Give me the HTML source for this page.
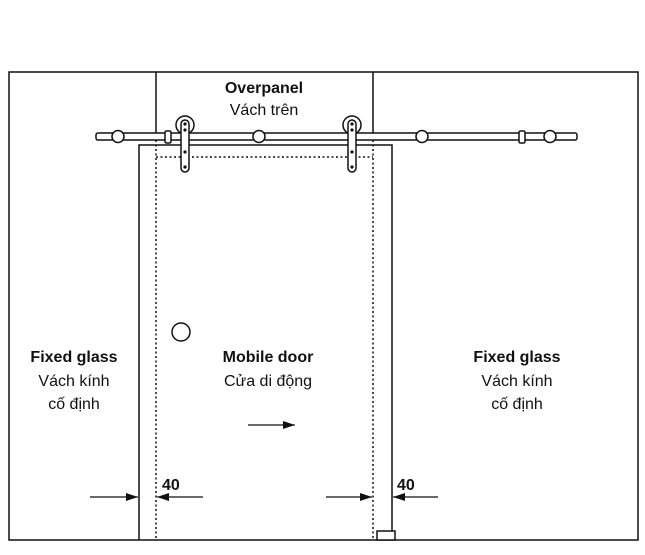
<!DOCTYPE html>
<html><head><meta charset="utf-8"><style>
html,body{margin:0;padding:0;background:#fff;}
svg{display:block;}
text{font-family:"Liberation Sans",Arial,sans-serif;font-size:16px;fill:#111;}
.b{font-weight:bold;}
</style></head><body>
<svg width="645" height="555" viewBox="0 0 645 555" xmlns="http://www.w3.org/2000/svg">
<defs><marker id="ah" markerWidth="12" markerHeight="8" refX="12" refY="4" orient="auto" markerUnits="userSpaceOnUse"><path d="M0,0 L12,4 L0,8 Z" fill="#111"/></marker></defs>
<g stroke="#111" stroke-width="1.5" fill="none">
<rect x="9" y="72" width="629" height="468"/>
<line x1="156" y1="72" x2="156" y2="134"/>
<line x1="373" y1="72" x2="373" y2="134"/>
<polyline points="139,540 139,145 392,145 392,540"/>
</g>
<g stroke="#111" stroke-width="1.5" stroke-dasharray="2,2.5" fill="none">
<line x1="156" y1="140" x2="156" y2="540"/>
<line x1="373" y1="140" x2="373" y2="540"/>
<line x1="156" y1="157" x2="373" y2="157"/>
</g>
<rect x="96" y="133" width="481" height="7" rx="2" fill="#fff" stroke="#111" stroke-width="1.5"/>
<g fill="#fff" stroke="#111" stroke-width="1.5">
<circle cx="118" cy="136.5" r="6"/>
<circle cx="259" cy="136.5" r="6"/>
<circle cx="422" cy="136.5" r="6"/>
<circle cx="550" cy="136.5" r="6"/>
<rect x="165" y="131" width="6" height="12" rx="1.5"/>
<rect x="519" y="131" width="6" height="12" rx="1.5"/>
<circle cx="185" cy="125" r="9"/>
<circle cx="352" cy="125" r="9"/>
<rect x="181" y="120" width="8" height="52" rx="4"/>
<rect x="348" y="120" width="8" height="52" rx="4"/>
<circle cx="181" cy="332" r="9"/>
<rect x="377" y="531" width="18" height="9"/>
</g>
<g fill="#111">
<circle cx="185" cy="124" r="1.6"/><circle cx="185" cy="130" r="1.6"/><circle cx="185" cy="152" r="1.6"/><circle cx="185" cy="167" r="1.6"/>
<circle cx="352" cy="124" r="1.6"/><circle cx="352" cy="130" r="1.6"/><circle cx="352" cy="152" r="1.6"/><circle cx="352" cy="167" r="1.6"/>
</g>
<g stroke="#111" stroke-width="1.3">
<line x1="248" y1="425" x2="295" y2="425" marker-end="url(#ah)"/>
<line x1="90" y1="497" x2="138" y2="497" marker-end="url(#ah)"/>
<line x1="203" y1="497" x2="157" y2="497" marker-end="url(#ah)"/>
<line x1="326" y1="497" x2="372" y2="497" marker-end="url(#ah)"/>
<line x1="438" y1="497" x2="393" y2="497" marker-end="url(#ah)"/>
</g>
<text x="264" y="93" class="b" text-anchor="middle">Overpanel</text>
<text x="264" y="115" text-anchor="middle">Vách trên</text>
<text x="74" y="362" class="b" text-anchor="middle">Fixed glass</text>
<text x="74" y="386" text-anchor="middle">Vách kính</text>
<text x="74" y="409" text-anchor="middle">cố định</text>
<text x="268" y="362" class="b" text-anchor="middle">Mobile door</text>
<text x="268" y="386" text-anchor="middle">Cửa di động</text>
<text x="517" y="362" class="b" text-anchor="middle">Fixed glass</text>
<text x="517" y="386" text-anchor="middle">Vách kính</text>
<text x="517" y="409" text-anchor="middle">cố định</text>
<text x="162" y="490" class="b">40</text>
<text x="397" y="490" class="b">40</text>
</svg>
</body></html>
